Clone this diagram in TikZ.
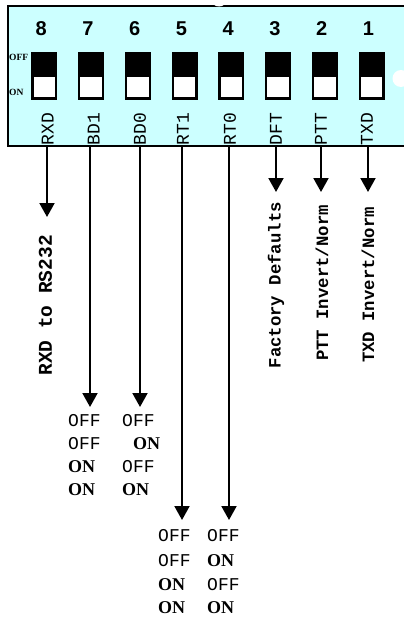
\documentclass[tikz,border=0pt]{standalone}
\usepackage{fontspec}
\usetikzlibrary{arrows.meta}
\newfontfamily\monof{Liberation Mono}
\newfontfamily\sansf{Liberation Sans}
\newfontfamily\seriff{Liberation Serif}
\definecolor{panelcyan}{RGB}{204,255,255}
\tikzset{
  numstyle/.style={inner sep=0pt, font=\sansf\bfseries\fontsize{20}{20}\selectfont},
  plabel/.style={inner sep=0pt, rotate=90, anchor=west, font=\monof\fontsize{18}{18}\selectfont},
  blabel/.style={inner sep=0pt, rotate=90, anchor=east, font=\monof\bfseries\fontsize{17.3}{17.3}\selectfont},
  offtxt/.style={inner sep=0pt, anchor=west, font=\monof\fontsize{18}{18}\selectfont},
  ontxt/.style={inner sep=0pt, anchor=west, font=\seriff\bfseries\fontsize{18}{18}\selectfont},
  tinytxt/.style={inner sep=0pt, anchor=west, font=\seriff\bfseries\fontsize{9.5}{9.5}\selectfont},
  swtop/.style={fill=black, inner sep=0pt, minimum width=26pt, minimum height=47.5pt},
  swbot/.style={fill=white, inner sep=0pt, minimum width=21.4pt, minimum height=20.3pt},
  arr/.style={line width=2pt, -{Triangle[width=15pt,length=14pt]}},
}
\begin{document}
\begin{tikzpicture}[x=1pt,y=-1pt]
\path[use as bounding box] (0,0) rectangle (404,621);
\clip (0,0) rectangle (404,621);
% panel
\draw[line width=2pt, fill=panelcyan] (8,5.5) rectangle (430,146);
\fill[white] (219,0) ellipse [x radius=7.5, y radius=6.5];
\fill[white] (401,78.5) circle (8.5);
% OFF / ON side labels
\node[tinytxt] (offside) at (9,57) {OFF};
\node[tinytxt] (onside) at (9,92) {ON};
% switches, numbers, labels
\foreach \k/\n/\lab/\lx in {0/8/RXD/47.8,1/7/BD1/93.7,2/6/BD0/140,3/5/RT1/183,4/4/RT0/230,5/3/DFT/276,6/2/PTT/321,7/1/TXD/367}{
  \pgfmathsetmacro{\cx}{44.3+46.75*\k}
  \node[swtop] (sw\n) at (\cx,75.75) {};
  \node[swbot] (swb\n) at (\cx,87.15) {};
  \node[numstyle] (num\n) at (\cx-3,29) {\n};
  \node[plabel] (lab\n) at (\lx,145.5) {\lab};
}
% arrows
\foreach \n/\ax/\tip in {8/47/217,7/90/407,6/140/407,5/182/520,4/229/520,3/276/192,2/321/192,1/368/192}{
  \coordinate (as\n) at (\ax,147);
  \coordinate (ae\n) at (\ax,\tip);
  \draw[arr] (as\n) -- (ae\n);
}
% rotated descriptions
\node[blabel, font=\monof\bfseries\fontsize{19.5}{19.5}\selectfont] (d8) at (45.5,235) {RXD to RS232};
\node[blabel] (d3) at (276,202) {Factory Defaults};
\node[blabel] (d2) at (322,205) {PTT Invert/Norm};
\node[blabel] (d1) at (368,207) {TXD Invert/Norm};
% table 1
\node[offtxt] (t1a) at (68,421) {OFF};
\node[offtxt] (t1b) at (122,421) {OFF};
\node[offtxt] (t1c) at (68,444) {OFF};
\node[ontxt]  (t1d) at (133,444) {ON};
\node[ontxt]  (t1e) at (68,467) {ON};
\node[offtxt] (t1f) at (122,467) {OFF};
\node[ontxt]  (t1g) at (68,490) {ON};
\node[ontxt]  (t1h) at (122,490) {ON};
% table 2
\node[offtxt] (t2a) at (158,536) {OFF};
\node[offtxt] (t2b) at (207,536) {OFF};
\node[offtxt] (t2c) at (158,561) {OFF};
\node[ontxt]  (t2d) at (207,561) {ON};
\node[ontxt]  (t2e) at (158,585) {ON};
\node[offtxt] (t2f) at (207,585) {OFF};
\node[ontxt]  (t2g) at (158,608) {ON};
\node[ontxt]  (t2h) at (207,608) {ON};
\end{tikzpicture}
\end{document}
